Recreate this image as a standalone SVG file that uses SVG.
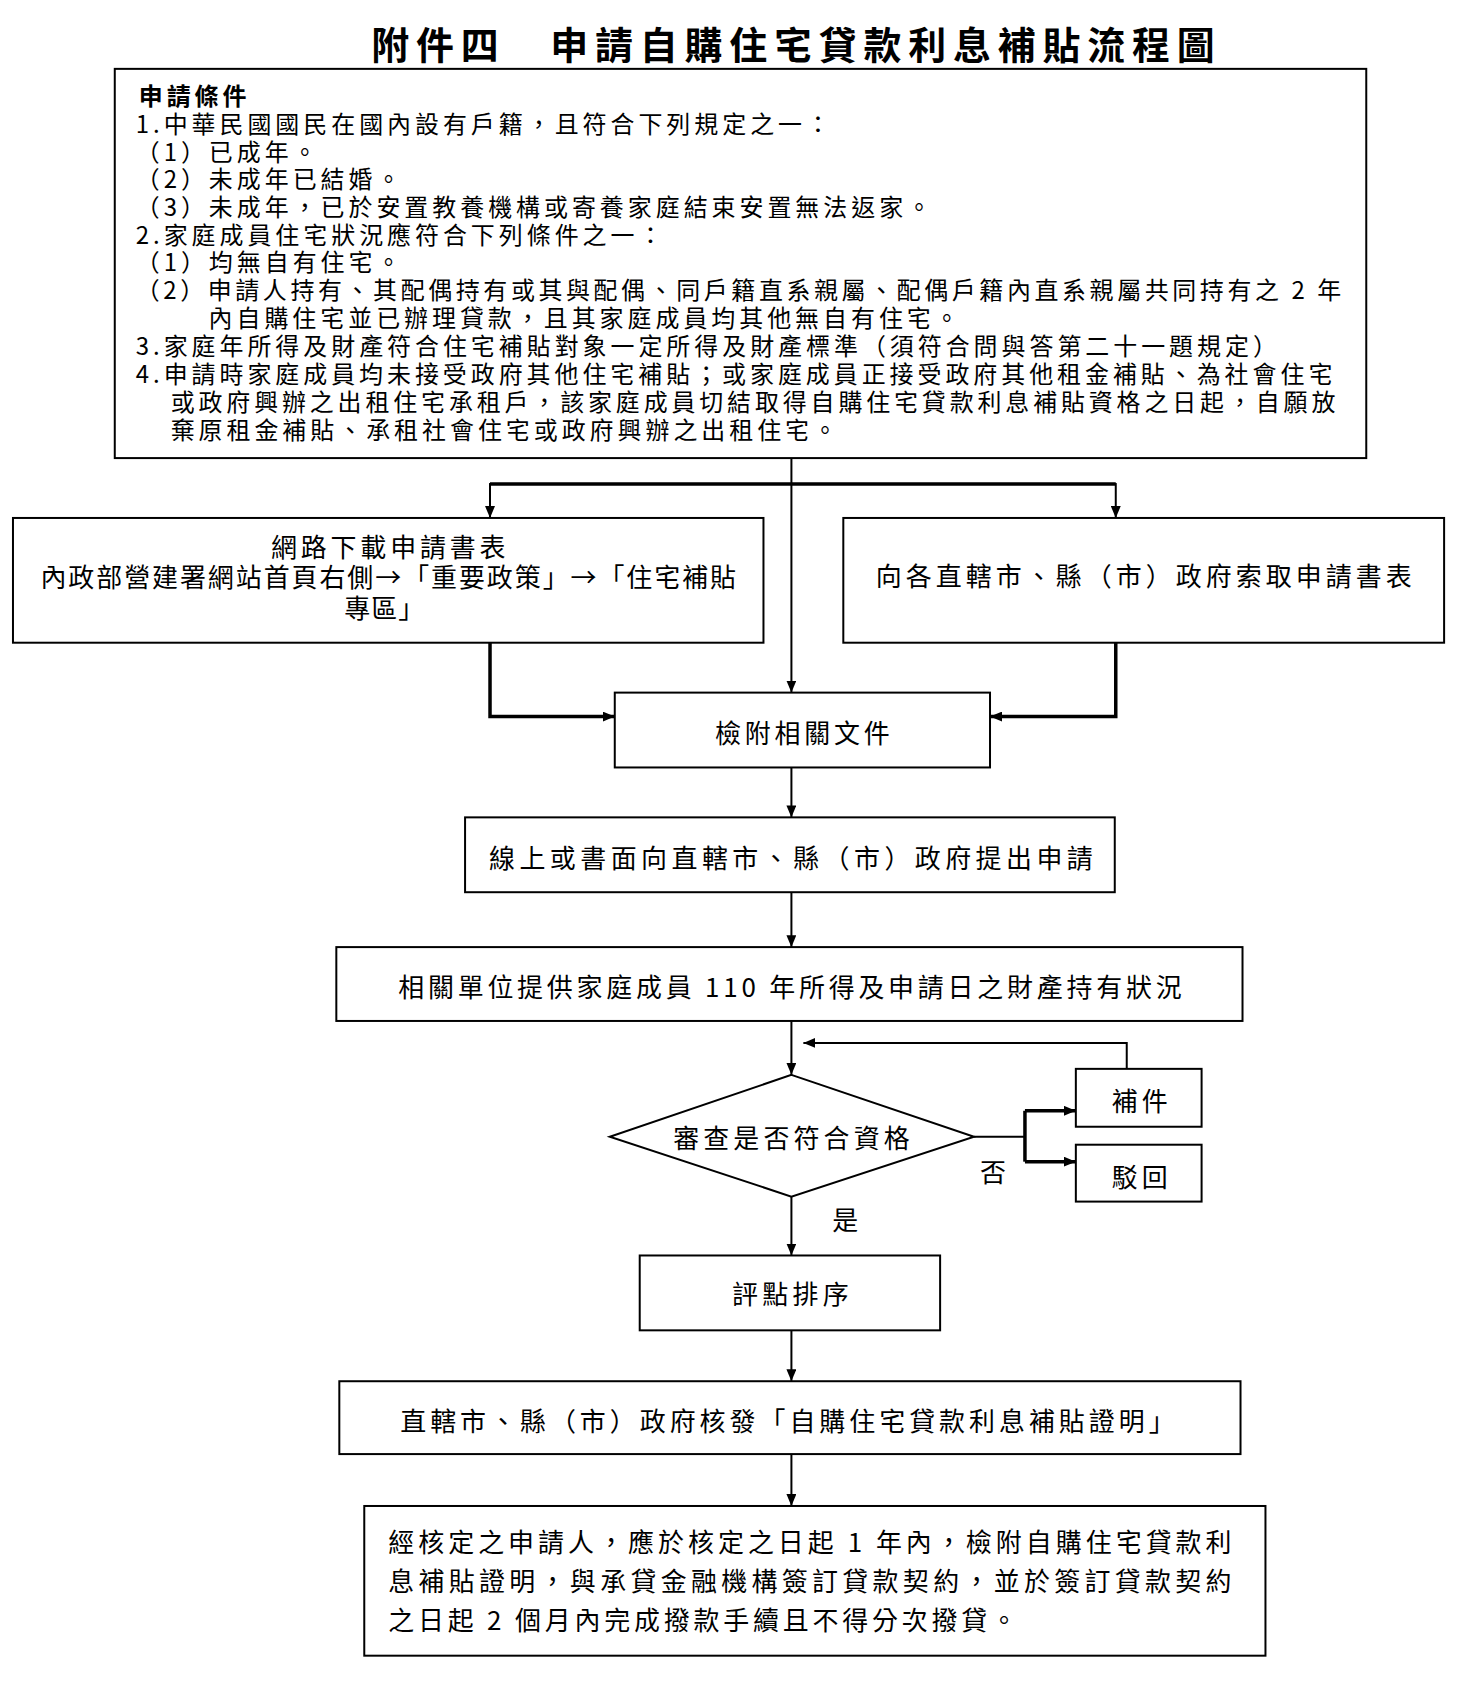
<svg xmlns="http://www.w3.org/2000/svg" width="1464" height="1696" viewBox="0 0 1464 1696">
<defs>
<marker id="arr" viewBox="0 0 12 10" refX="12" refY="5" markerWidth="12" markerHeight="10" markerUnits="userSpaceOnUse" orient="auto">
<path d="M0,0 L12,5 L0,10 Z" fill="#000"/>
</marker>
</defs>
<style>
text{font-family:"Noto Sans CJK TC","Noto Sans CJK SC",sans-serif;fill:#000;dominant-baseline:central}
.t{font-size:38px;font-weight:bold}
.c{font-size:24px;letter-spacing:4px}
.cb{font-size:24px;font-weight:bold;letter-spacing:4px}
.n{font-size:26px;text-anchor:middle}
.s{font-size:26px}
.box{fill:#fff;stroke:#000;stroke-width:2}
.ln{fill:none;stroke:#000;stroke-width:2}
.lt{fill:none;stroke:#000;stroke-width:3.5}
</style>
<rect width="1464" height="1696" fill="#fff"/>
<g transform="scale(0.998)">
<text class="t" x="794.5" y="43" text-anchor="middle" textLength="845" lengthAdjust="spacing">附件四　申請自購住宅貸款利息補貼流程圖</text>

<g id="conditions">
<rect class="box" x="115" y="69" width="1254" height="390"/>
<text class="cb" x="139" y="95">申請條件</text>
<text class="c" x="136" y="122.5">1.中華民國國民在國內設有戶籍，且符合下列規定之一：</text>
<text class="c" x="136" y="150.5">（1）已成年。</text>
<text class="c" x="136" y="178">（2）未成年已結婚。</text>
<text class="c" x="136" y="206">（3）未成年，已於安置教養機構或寄養家庭結束安置無法返家。</text>
<text class="c" x="136" y="233.5">2.家庭成員住宅狀況應符合下列條件之一：</text>
<text class="c" x="136" y="261.5">（1）均無自有住宅。</text>
<text class="c" x="136" y="289.5" textLength="1212" lengthAdjust="spacing">（2）申請人持有、其配偶持有或其與配偶、同戶籍直系親屬、配偶戶籍內直系親屬共同持有之 2 年</text>
<text class="c" x="209" y="317.5">內自購住宅並已辦理貸款，且其家庭成員均其他無自有住宅。</text>
<text class="c" x="136" y="345.5">3.家庭年所得及財產符合住宅補貼對象一定所得及財產標準（須符合問與答第二十一題規定）</text>
<text class="c" x="136" y="373.5" textLength="1203" lengthAdjust="spacing">4.申請時家庭成員均未接受政府其他住宅補貼；或家庭成員正接受政府其他租金補貼、為社會住宅</text>
<text class="c" x="171" y="401.5" textLength="1171" lengthAdjust="spacing">或政府興辦之出租住宅承租戶，該家庭成員切結取得自購住宅貸款利息補貼資格之日起，自願放</text>
<text class="c" x="171" y="429.5">棄原租金補貼、承租社會住宅或政府興辦之出租住宅。</text>
</g>

<g id="download">
<rect class="box" x="13" y="519" width="752" height="125"/>
<text class="n" x="389" y="547" textLength="235" lengthAdjust="spacing">網路下載申請書表</text>
<text class="n" x="389" y="577" textLength="697" lengthAdjust="spacing">內政部營建署網站首頁右側→「重要政策」→「住宅補貼</text>
<text class="n" x="385" y="608" textLength="80" lengthAdjust="spacing">專區」</text>
</g>

<g id="obtain">
<rect class="box" x="845" y="519" width="602" height="125"/>
<text class="n" x="1146" y="576" textLength="537" lengthAdjust="spacing">向各直轄市、縣（市）政府索取申請書表</text>
</g>

<g id="attach">
<rect class="box" x="616" y="694" width="376" height="75"/>
<text class="n" x="804" y="733" textLength="175" lengthAdjust="spacing">檢附相關文件</text>
</g>

<g id="apply">
<rect class="box" x="466" y="819" width="651" height="75"/>
<text class="n" x="792.5" y="858" textLength="605" lengthAdjust="spacing">線上或書面向直轄市、縣（市）政府提出申請</text>
</g>

<g id="provide">
<rect class="box" x="337" y="949" width="908" height="74"/>
<text class="n" x="791.5" y="987" textLength="785" lengthAdjust="spacing">相關單位提供家庭成員 110 年所得及申請日之財產持有狀況</text>
</g>

<g id="review">
<polygon class="box" points="793,1077 976,1139 793,1199 611,1139"/>
<text class="n" x="793" y="1139" textLength="237" lengthAdjust="spacing">審查是否符合資格</text>
</g>

<g id="supplement">
<rect class="box" x="1078" y="1071" width="126" height="58"/>
<text class="n" x="1142" y="1102" textLength="56" lengthAdjust="spacing">補件</text>
</g>

<g id="reject">
<rect class="box" x="1078" y="1147" width="126" height="57"/>
<text class="n" x="1142" y="1178" textLength="56" lengthAdjust="spacing">駁回</text>
</g>

<g id="rank">
<rect class="box" x="641" y="1258" width="301" height="75"/>
<text class="n" x="792" y="1295" textLength="117" lengthAdjust="spacing">評點排序</text>
</g>

<g id="issue">
<rect class="box" x="340" y="1384" width="903" height="73"/>
<text class="n" x="789" y="1422" textLength="776" lengthAdjust="spacing">直轄市、縣（市）政府核發「自購住宅貸款利息補貼證明」</text>
</g>

<g id="final">
<rect class="box" x="365" y="1509" width="903" height="150"/>
<text class="s" x="389" y="1544" textLength="845" lengthAdjust="spacing">經核定之申請人，應於核定之日起 1 年內，檢附自購住宅貸款利</text>
<text class="s" x="389" y="1583" textLength="845" lengthAdjust="spacing">息補貼證明，與承貸金融機構簽訂貸款契約，並於簽訂貸款契約</text>
<text class="s" x="389" y="1622" textLength="630" lengthAdjust="spacing">之日起 2 個月內完成撥款手續且不得分次撥貸。</text>
</g>

<g id="connectors">
<path class="ln" d="M793,459 V694" marker-end="url(#arr)"/>
<path class="lt" d="M491,485 H1118"/>
<path class="ln" d="M491,484 V519" marker-end="url(#arr)"/>
<path class="ln" d="M1118,484 V519" marker-end="url(#arr)"/>
<path class="lt" d="M491,644 V718 H616" marker-end="url(#arr)"/>
<path class="lt" d="M1118,644 V718 H992" marker-end="url(#arr)"/>
<path class="ln" d="M793,769 V819" marker-end="url(#arr)"/>
<path class="ln" d="M793,894 V949" marker-end="url(#arr)"/>
<path class="ln" d="M793,1023 V1077" marker-end="url(#arr)"/>
<path class="ln" d="M1129,1071 V1045 H805" marker-end="url(#arr)"/>
<path class="ln" d="M976,1139 H1027"/>
<path class="lt" d="M1027,1113 V1164"/>
<path class="lt" d="M1027,1113 H1078" marker-end="url(#arr)"/>
<path class="lt" d="M1027,1164 H1078" marker-end="url(#arr)"/>
<path class="ln" d="M793,1199 V1258" marker-end="url(#arr)"/>
<path class="ln" d="M793,1333 V1384" marker-end="url(#arr)"/>
<path class="ln" d="M793,1457 V1509" marker-end="url(#arr)"/>
<text class="s" x="995" y="1173" text-anchor="middle">否</text>
<text class="s" x="847" y="1221" text-anchor="middle">是</text>
</g>
</g>
</svg>
